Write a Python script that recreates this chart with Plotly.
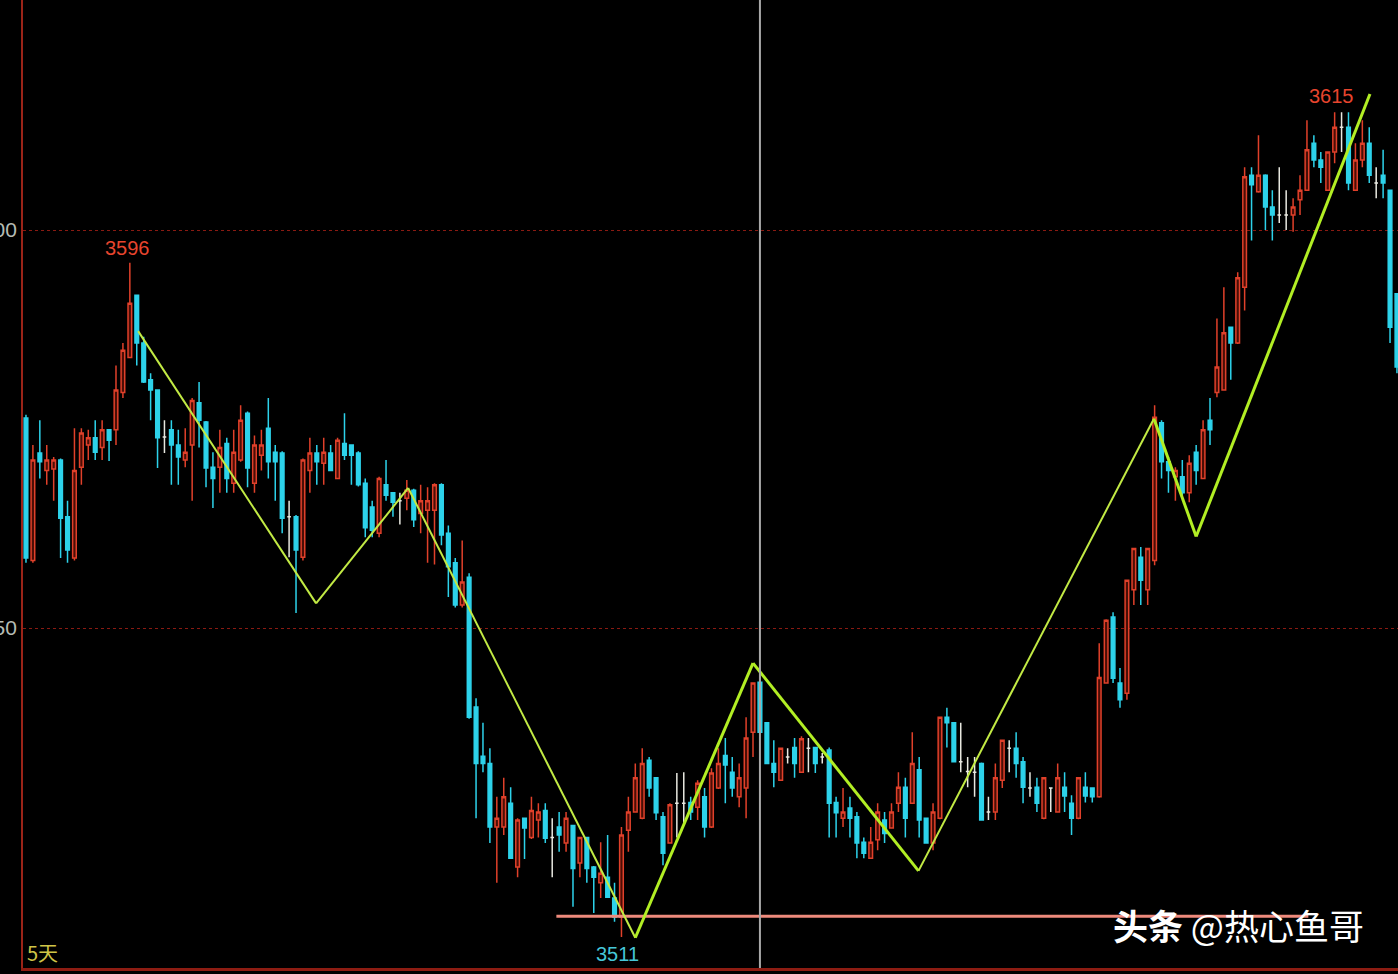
import plotly.graph_objects as go

# ---------------- data ----------------
opens = [3576.4, 3558.5, 3572.0, 3569.8, 3570.0, 3571.1, 3564.0, 3558.8, 3570.2, 3573.0,
         3573.9, 3572.7, 3574.9, 3574.9, 3579.6, 3584.0, 3591.8, 3585.8, 3581.2, 3579.9,
         3574.0, 3574.9, 3573.0, 3571.1, 3573.0, 3578.3, 3575.9, 3570.2, 3570.2, 3573.2,
         3568.2, 3571.1, 3577.0, 3568.2, 3571.7, 3575.1, 3572.1, 3572.0, 3564.0, 3564.0,
         3558.9, 3569.8, 3572.0, 3570.7, 3572.0, 3568.8, 3573.2, 3573.0, 3572.0, 3568.2,
         3565.2, 3561.9, 3568.0, 3567.0, 3566.0, 3566.3, 3567.3, 3564.4, 3564.8, 3564.8,
         3568.0, 3561.9, 3558.2, 3552.9, 3556.4, 3540.1, 3533.9, 3533.0, 3525.0, 3525.0,
         3528.0, 3520.0, 3526.1, 3523.7, 3525.9, 3527.1, 3523.7, 3525.0, 3523.0, 3525.2,
         3520.5, 3523.7, 3520.0, 3518.0, 3518.7, 3516.1, 3513.7, 3524.6, 3526.9, 3526.1,
         3533.4, 3531.2, 3526.3, 3523.0, 3528.0, 3528.0, 3528.1, 3527.5, 3528.8, 3525.0,
         3529.9, 3534.0, 3531.9, 3528.8, 3529.9, 3536.9, 3543.2, 3538.1, 3533.0, 3530.9,
         3533.8, 3535.0, 3531.9, 3534.9, 3535.0, 3533.8, 3534.7, 3528.1, 3526.1, 3527.4,
         3526.3, 3523.1, 3521.1, 3523.4, 3525.9, 3524.9, 3528.0, 3530.0, 3528.0, 3532.2,
         3526.1, 3523.0, 3526.1, 3538.8, 3538.1, 3533.2, 3532.0, 3531.9, 3533.0, 3526.9,
         3526.9, 3530.9, 3534.9, 3534.9, 3533.2, 3529.9, 3530.0, 3526.1, 3529.9, 3526.9,
         3530.0, 3528.0, 3526.1, 3530.0, 3529.9, 3528.8, 3543.1, 3551.4, 3543.1, 3541.8,
         3554.8, 3558.9, 3554.8, 3558.5, 3575.8, 3570.9, 3569.0, 3569.0, 3567.0, 3572.1,
         3568.8, 3576.1, 3579.6, 3579.9, 3587.8, 3585.8, 3592.8, 3606.9, 3604.8, 3606.9,
         3602.9, 3601.9, 3601.9, 3601.9, 3603.8, 3605.0, 3610.9, 3608.8, 3605.0, 3609.8,
         3612.9, 3612.9, 3605.0, 3608.8, 3610.9, 3605.9, 3606.9, 3605.0, 3592.0]

closes = [3558.8, 3571.1, 3570.9, 3571.1, 3571.1, 3563.8, 3559.8, 3569.8, 3574.5, 3573.9,
          3572.1, 3574.9, 3573.6, 3579.9, 3584.9, 3590.8, 3585.8, 3580.9, 3579.9, 3573.9,
          3574.0, 3573.0, 3571.5, 3572.1, 3578.6, 3576.1, 3570.1, 3568.8, 3572.7, 3568.8,
          3572.1, 3576.1, 3570.1, 3573.0, 3573.0, 3570.9, 3570.9, 3563.8, 3564.0, 3559.8,
          3571.1, 3572.0, 3570.9, 3572.1, 3569.8, 3573.6, 3571.7, 3571.7, 3568.0, 3562.6,
          3562.3, 3568.8, 3566.7, 3565.8, 3566.0, 3567.3, 3563.6, 3566.0, 3566.0, 3568.0,
          3561.7, 3557.7, 3552.9, 3555.8, 3538.8, 3533.0, 3533.0, 3525.0, 3526.1, 3528.8,
          3521.1, 3525.9, 3524.9, 3527.1, 3526.9, 3523.6, 3523.7, 3524.0, 3526.1, 3519.8,
          3523.7, 3519.8, 3518.7, 3519.2, 3516.2, 3513.7, 3524.0, 3526.9, 3531.2, 3533.0,
          3529.9, 3526.8, 3521.7, 3527.8, 3528.0, 3528.0, 3526.9, 3530.5, 3525.0, 3531.8,
          3533.0, 3532.8, 3529.9, 3531.2, 3536.2, 3543.1, 3536.9, 3533.0, 3531.9, 3534.9,
          3533.8, 3533.0, 3536.1, 3534.9, 3533.0, 3533.8, 3528.0, 3526.8, 3526.9, 3526.1,
          3523.0, 3521.7, 3523.1, 3526.9, 3524.2, 3526.9, 3530.0, 3526.1, 3533.0, 3525.9,
          3523.0, 3526.9, 3538.8, 3538.1, 3533.2, 3533.2, 3532.0, 3531.9, 3525.9, 3526.9,
          3531.2, 3535.9, 3534.9, 3533.0, 3530.0, 3529.9, 3528.0, 3531.2, 3529.9, 3531.2,
          3528.9, 3526.1, 3531.2, 3528.9, 3528.8, 3543.8, 3551.0, 3543.7, 3541.0, 3556.0,
          3560.0, 3556.0, 3560.0, 3576.5, 3570.9, 3569.8, 3569.8, 3567.0, 3570.7, 3569.8,
          3574.9, 3574.9, 3582.8, 3587.1, 3585.8, 3594.0, 3606.7, 3605.7, 3606.9, 3602.9,
          3601.9, 3601.9, 3601.9, 3602.9, 3605.0, 3610.1, 3608.8, 3607.9, 3609.8, 3612.9,
          3612.9, 3605.9, 3608.8, 3610.9, 3606.9, 3605.9, 3605.9, 3587.8, 3582.8]

highs = [3576.8, 3573.0, 3576.1, 3573.0, 3571.5, 3571.3, 3566.0, 3575.1, 3575.1, 3574.9,
         3576.1, 3576.1, 3575.0, 3583.0, 3585.8, 3595.9, 3591.9, 3586.6, 3582.0, 3580.0,
         3576.1, 3576.1, 3574.9, 3575.1, 3578.9, 3580.9, 3576.0, 3572.1, 3574.9, 3573.9,
         3574.9, 3578.0, 3577.2, 3574.2, 3574.9, 3578.9, 3573.0, 3572.2, 3566.0, 3564.2,
         3571.3, 3573.9, 3573.0, 3573.9, 3573.0, 3573.9, 3577.0, 3573.1, 3572.2, 3568.8,
         3566.0, 3569.0, 3571.1, 3567.1, 3567.0, 3568.6, 3567.5, 3568.0, 3567.7, 3568.2,
         3568.2, 3562.9, 3558.8, 3561.0, 3556.9, 3541.2, 3538.1, 3534.9, 3528.8, 3531.2,
         3530.0, 3526.1, 3526.2, 3528.8, 3528.0, 3528.0, 3526.1, 3526.9, 3526.9, 3525.3,
         3523.8, 3523.8, 3520.1, 3523.1, 3524.0, 3518.0, 3525.0, 3528.8, 3533.0, 3534.9,
         3533.8, 3531.3, 3526.9, 3528.0, 3531.8, 3531.9, 3528.8, 3530.9, 3529.9, 3532.4,
         3534.9, 3536.2, 3533.8, 3533.0, 3538.8, 3543.2, 3543.8, 3538.2, 3535.9, 3535.0,
         3534.9, 3536.2, 3536.4, 3536.2, 3535.1, 3534.3, 3535.0, 3528.8, 3529.9, 3528.8,
         3526.9, 3523.7, 3525.0, 3528.0, 3526.9, 3528.0, 3531.9, 3531.2, 3536.9, 3533.8,
         3526.2, 3528.0, 3538.9, 3540.0, 3538.2, 3538.1, 3533.8, 3533.8, 3533.1, 3528.8,
         3533.0, 3536.0, 3535.9, 3536.9, 3533.8, 3531.9, 3531.2, 3531.3, 3530.0, 3533.0,
         3531.9, 3529.0, 3531.3, 3531.9, 3530.0, 3548.1, 3551.1, 3552.0, 3545.0, 3556.1,
         3560.1, 3560.2, 3560.1, 3578.0, 3576.1, 3571.5, 3570.2, 3571.1, 3571.7, 3573.0,
         3576.1, 3578.9, 3588.9, 3592.8, 3587.9, 3594.7, 3607.9, 3607.9, 3611.9, 3607.0,
         3605.0, 3607.9, 3605.0, 3604.0, 3606.9, 3613.8, 3611.9, 3609.8, 3609.9, 3614.8,
         3614.8, 3614.8, 3610.9, 3613.8, 3612.9, 3607.9, 3610.1, 3605.1, 3592.1]

lows = [3558.2, 3558.2, 3568.8, 3568.0, 3566.0, 3558.8, 3558.2, 3558.5, 3568.0, 3571.1,
        3571.1, 3571.1, 3571.0, 3573.0, 3578.9, 3584.0, 3583.0, 3580.8, 3576.1, 3570.1,
        3572.0, 3568.0, 3568.0, 3570.2, 3566.0, 3572.7, 3567.7, 3565.1, 3567.0, 3567.0,
        3567.0, 3570.9, 3567.7, 3567.0, 3569.8, 3568.8, 3566.0, 3561.9, 3558.9, 3551.9,
        3558.5, 3567.0, 3568.0, 3568.0, 3569.7, 3568.7, 3571.1, 3568.0, 3567.8, 3561.4,
        3561.4, 3561.4, 3566.0, 3564.0, 3563.0, 3564.8, 3562.7, 3561.9, 3558.2, 3558.0,
        3560.4, 3553.9, 3552.6, 3552.6, 3538.6, 3526.1, 3531.9, 3523.0, 3518.0, 3524.0,
        3521.0, 3518.7, 3521.0, 3523.5, 3523.7, 3523.0, 3518.7, 3521.9, 3521.9, 3515.0,
        3518.7, 3518.0, 3514.2, 3516.1, 3516.1, 3513.1, 3511.2, 3521.9, 3526.8, 3526.0,
        3528.8, 3525.9, 3520.2, 3522.9, 3523.7, 3525.5, 3525.9, 3525.9, 3523.7, 3524.9,
        3529.8, 3528.0, 3528.8, 3527.5, 3526.1, 3533.8, 3536.8, 3532.9, 3530.0, 3530.8,
        3533.0, 3531.2, 3531.8, 3531.9, 3531.8, 3533.0, 3523.7, 3523.7, 3525.0, 3523.7,
        3521.1, 3521.1, 3521.0, 3522.1, 3523.0, 3524.8, 3526.9, 3523.7, 3527.9, 3523.7,
        3522.9, 3522.1, 3526.0, 3535.0, 3533.1, 3531.9, 3530.0, 3528.8, 3525.8, 3525.9,
        3525.9, 3529.9, 3531.9, 3531.2, 3528.0, 3528.8, 3526.9, 3526.0, 3526.9, 3526.8,
        3526.9, 3524.0, 3526.0, 3528.1, 3528.1, 3528.7, 3543.0, 3543.1, 3540.0, 3541.0,
        3552.9, 3552.9, 3552.9, 3557.9, 3568.8, 3567.0, 3566.0, 3566.5, 3565.8, 3568.0,
        3568.7, 3573.0, 3579.0, 3579.8, 3581.2, 3585.7, 3589.9, 3598.7, 3604.7, 3600.0,
        3598.7, 3600.9, 3600.0, 3599.8, 3601.9, 3604.9, 3607.9, 3605.9, 3604.9, 3608.4,
        3609.8, 3605.0, 3604.9, 3607.9, 3605.9, 3604.0, 3604.0, 3585.8, 3582.0]

# zigzag (wave) line turning points: bar position, price
zz_x = [16.2, 41.9, 55.2, 88.0, 105.0, 128.9, 162.9, 169.0, 194.1]
zz_y = [3587.3, 3553.1, 3567.6, 3511.1, 3545.6, 3519.5, 3576.3, 3561.5, 3617.1]
zz_w = [2, 2, 2, 3, 3, 2, 3, 3]

support_level = 3513.8
support_x = [76.6, 185.2]
cursor_x = 106

peak_labels = [("3596", 14.7, 3597.7, "#E8452E"),
               ("3615", 188.6, 3616.8, "#E8452E"),
               ("3511", 85.5, 3509.0, "#45C6D8")]

y_ticks = [3550, 3600]

# ---------------- figure ----------------
idx = list(range(len(opens)))
UP_LINE, UP_FILL = "#E0402A", "#4A0E06"
DN = "#2DD2EA"
DOJI = "#E8E8E0"

def subset(cond):
    sel = [i for i in idx if cond(opens[i], closes[i])]
    return (sel, [opens[i] for i in sel], [max(highs[i], opens[i], closes[i]) for i in sel],
            [min(lows[i], opens[i], closes[i]) for i in sel], [closes[i] for i in sel])

fig = go.Figure()
for cond, lc, fc in [(lambda o, c: c > o, UP_LINE, UP_FILL),
                     (lambda o, c: c < o, DN, DN),
                     (lambda o, c: c == o, DOJI, DOJI)]:
    x, o, h, l, c = subset(cond)
    fig.add_trace(go.Candlestick(
        x=x, open=o, high=h, low=l, close=c,
        increasing=dict(line=dict(color=lc, width=1.5), fillcolor=fc),
        decreasing=dict(line=dict(color=lc, width=1.5), fillcolor=fc),
        whiskerwidth=0, showlegend=False, hoverinfo="skip"))

# support line
fig.add_trace(go.Scatter(x=support_x, y=[support_level, support_level], mode="lines",
                         line=dict(color="#EE8A7C", width=3), showlegend=False, hoverinfo="skip"))

# zigzag segments
for i in range(len(zz_x) - 1):
    fig.add_trace(go.Scatter(x=zz_x[i:i + 2], y=zz_y[i:i + 2], mode="lines",
                             line=dict(color="#B2EE24" if zz_w[i] >= 3 else "#C2EA44", width=zz_w[i]),
                             showlegend=False, hoverinfo="skip"))

# vertical cursor line
fig.add_shape(type="line", xref="x", yref="paper", x0=cursor_x, x1=cursor_x, y0=0, y1=1,
              line=dict(color="#A8A8A8", width=2))

for txt, xx, yy, col in peak_labels:
    fig.add_annotation(x=xx, y=yy, text=txt, showarrow=False, xanchor="center", yanchor="middle",
                       font=dict(family="Liberation Sans", size=20, color=col))

fig.add_annotation(xref="paper", yref="paper", x=0.0015, y=0.0155, text="5天", showarrow=False,
                   xanchor="left", yanchor="middle",
                   font=dict(family="Noto Sans CJK SC", size=20, color="#CFC447"))

fig.add_annotation(xref="paper", yref="paper", x=0.7915, y=0.0445,
                   text="<b>头条</b> @热心鱼哥", showarrow=False, xanchor="left", yanchor="middle",
                   font=dict(family="Noto Sans CJK SC", size=35, color="#FFFFFF"))

fig.update_layout(
    width=1398, height=974, template="none",
    paper_bgcolor="#000000", plot_bgcolor="#000000",
    margin=dict(l=23, r=0, t=0, b=6),
    boxgap=0.25, boxmode="overlay",
    xaxis=dict(range=[-0.43, 198.15], showticklabels=False, showgrid=False, zeroline=False,
               rangeslider=dict(visible=False), showline=True, linecolor="#8E1C12", linewidth=3,
               automargin=False, fixedrange=True),
    yaxis=dict(range=[3507.3, 3628.9], tickvals=y_ticks, ticktext=[str(v) for v in y_ticks],
               showgrid=True, gridcolor="#8A1A12", griddash="dot", gridwidth=1,
               zeroline=False, showline=True, linecolor="#9B2418", linewidth=2,
               ticks="", ticklen=0, ticklabelstandoff=0, automargin=False,
               tickfont=dict(family="Liberation Sans", size=21, color="#B4BCB4")),
)

fig.write_html("out.html", config={"displayModeBar": False},
               post_script="document.body.style.margin='0';document.body.style.overflow='hidden';"
                           "document.body.style.background='#000';")
